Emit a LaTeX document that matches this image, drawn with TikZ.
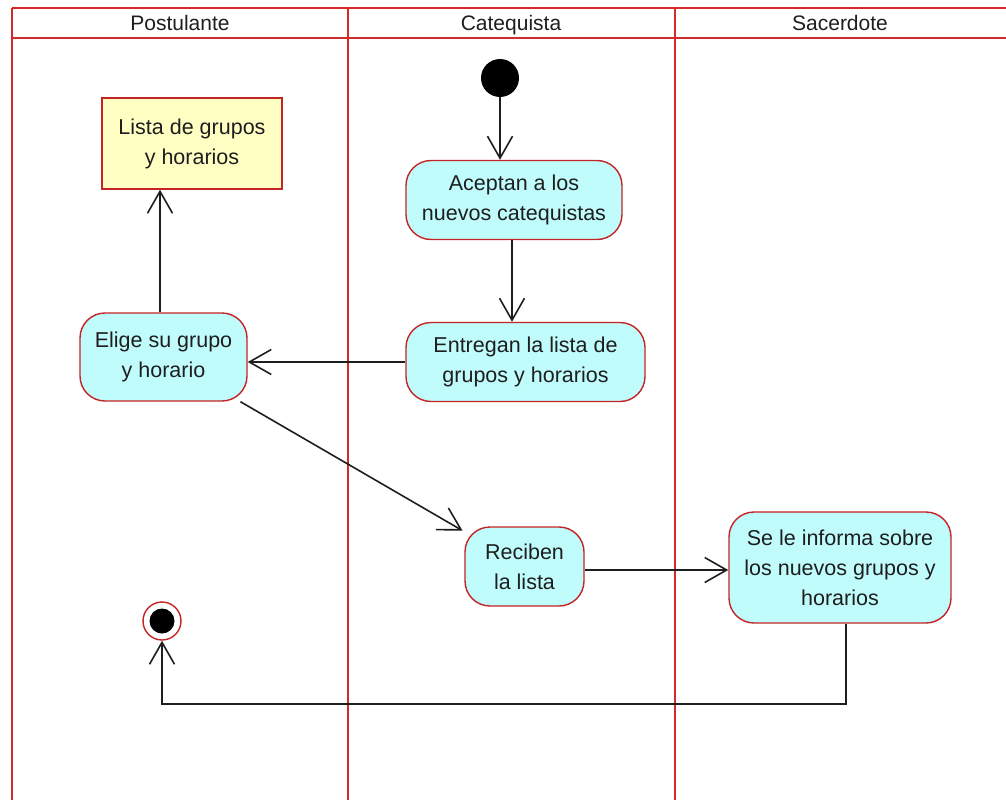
\documentclass[tikz,border=0pt]{standalone}
\usepackage{fontspec}
\setmainfont{Liberation Sans}
\usetikzlibrary{arrows.meta}
\definecolor{lanered}{HTML}{D42A2A}
\definecolor{boxred}{HTML}{C42424}
\definecolor{actfill}{HTML}{C0FCFC}
\definecolor{objfill}{HTML}{FFFFC4}
\definecolor{ink}{HTML}{1E1E1E}
\tikzset{
  lane/.style={draw=lanered, line width=1.1pt},
  action/.style={draw=boxred, fill=actfill, line width=1.4pt, rounded corners=25pt,
    align=center, text=ink, inner sep=0pt, font=\fontsize{21.5}{30}\selectfont},
  objbox/.style={draw=boxred, fill=objfill, line width=1.4pt,
    align=center, text=ink, inner sep=0pt, font=\fontsize{21.5}{30}\selectfont},
  lanetitle/.style={text=ink, anchor=base, font=\fontsize{21}{24}\selectfont},
  flow/.style={draw=ink, line width=1.6pt, -{Straight Barb[length=22pt,width=25pt,line width=1.6pt]}},
}
\begin{document}
\begin{tikzpicture}[x=1pt,y=-1pt]
\useasboundingbox (0,0) rectangle (1006,800);
% swimlanes
\draw[lane] (12,8) -- (1006,8);
\draw[lane] (12,38) -- (1006,38);
\draw[lane] (12,8) -- (12,800);
\draw[lane] (348,8) -- (348,800);
\draw[lane] (675,8) -- (675,800);
\node[lanetitle] (t1) at (180,31) {Postulante};
\node[lanetitle] (t2) at (511,31) {Catequista};
\node[lanetitle] (t3) at (840,31) {Sacerdote};
% activity nodes
\node[circle, fill=black, minimum size=38pt, inner sep=0pt] (start) at (500,78) {};
\node[action, minimum width=216pt, minimum height=79pt] (aceptan) at (514,200) {Aceptan a los\\nuevos catequistas};
\node[action, minimum width=239pt, minimum height=79pt] (entregan) at (525.5,362) {Entregan la lista de\\grupos y horarios};
\node[action, minimum width=167pt, minimum height=88pt] (elige) at (163.5,357) {Elige su grupo\\y horario};
\node[objbox, minimum width=180pt, minimum height=91pt] (lista) at (192,143.5) {Lista de grupos\\y horarios};
\node[action, minimum width=119pt, minimum height=79pt] (reciben) at (524.5,566.5) {Reciben\\la lista};
\node[action, minimum width=222pt, minimum height=111pt] (inform) at (840,567.5) {Se le informa sobre\\los nuevos grupos y\\horarios};
\node[circle, draw=boxred, fill=white, line width=1.4pt, minimum size=38pt, inner sep=0pt] (final) at (162,621) {};
\node[circle, fill=black, minimum size=25pt, inner sep=0pt] (finaldot) at (final) {};
% control flows
\draw[flow] (start) -- (start |- aceptan.north);
\draw[flow] (aceptan.south -| 512,0) -- (512,0 |- entregan.north);
\draw[flow] (entregan.west) -- (entregan.west -| elige.east);
\draw[flow] (elige.north -| 160,0) -- (160,0 |- lista.south);
\draw[flow, shorten >=2pt] (elige) -- (reciben);
\draw[flow] (reciben.east |- 0,570) -- (inform.west |- 0,570);
\coordinate (turn) at (846,704);
\draw[flow] (inform.south -| turn) -- (turn) -| (final.south);
\end{tikzpicture}
\end{document}
